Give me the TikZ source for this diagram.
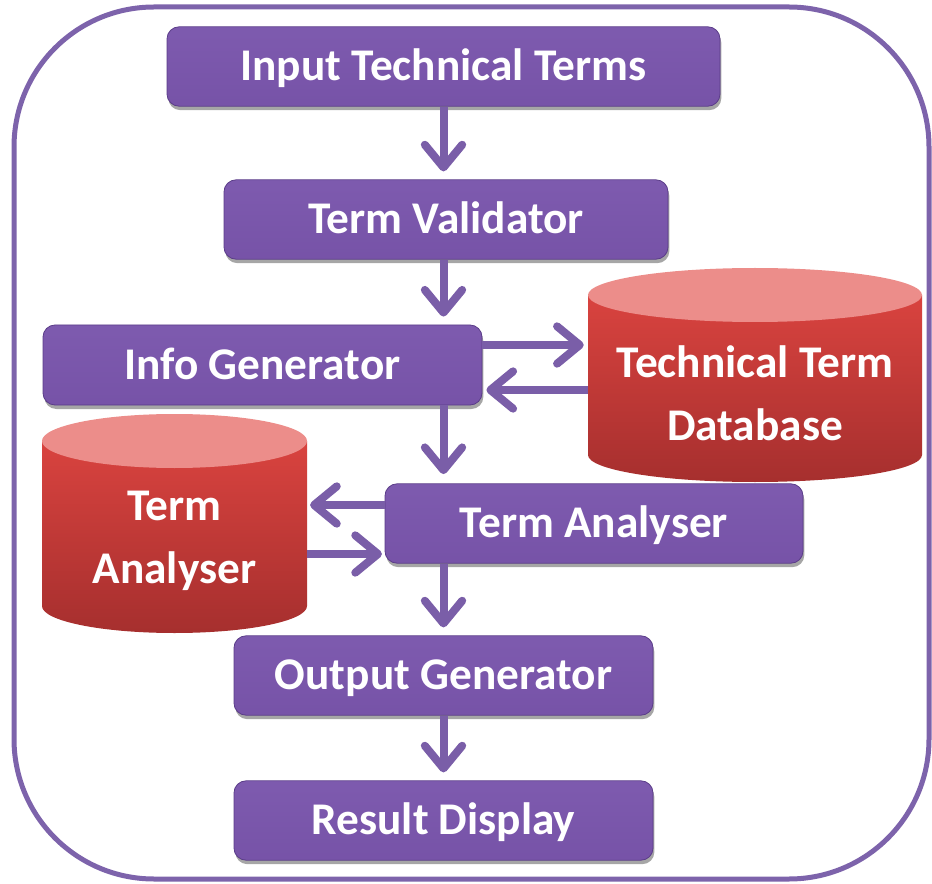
\documentclass[tikz,border=0pt]{standalone}
\usepackage{fontspec}
\setmainfont{Carlito}
\usetikzlibrary{arrows.meta,shadows,calc}
\definecolor{framec}{HTML}{7D63AB}
\definecolor{arrowc}{HTML}{7A5EA8}
\definecolor{boxlight}{HTML}{A98DD6}
\definecolor{boxmid}{HTML}{7E5BAF}
\definecolor{boxmidd}{HTML}{7551A6}
\definecolor{boxdark}{HTML}{603E91}
\definecolor{boxborder}{HTML}{5A3C88}
\definecolor{cyltop}{HTML}{EC8D8A}
\definecolor{cylhi}{HTML}{D9433F}
\definecolor{cyllo}{HTML}{A62F2E}
\pgfdeclareverticalshading{boxshade}{100bp}{color(0bp)=(boxdark); color(14bp)=(boxmidd); color(78bp)=(boxmid); color(92bp)=(boxlight); color(100bp)=(boxlight)}
\tikzset{
  lbl/.style={text=white, font=\bfseries\fontsize{34}{47}\selectfont, align=center},
  boxn/.style={lbl, shade, shading=boxshade, draw=boxborder, line width=0.6pt,
    rounded corners=9pt, minimum height=59.5pt, inner sep=0pt,
    text height=21pt, text depth=0pt,
    drop shadow={shadow xshift=1pt, shadow yshift=-3pt, opacity=0.35, fill=black}},
  cylarea/.style={inner sep=0pt, draw=none},
  arr/.style={draw=arrowc, line width=6pt, -{Straight Barb[length=17pt, width=28pt, round]}},
}
\begin{document}
\begin{tikzpicture}[x=0.75pt, y=-0.75pt]
\useasboundingbox (0,0) rectangle (932,884);
% outer frame
\draw[framec, line width=3.75pt, rounded corners=105pt] (14,7) rectangle (929,879);

% cylinders
\shade[top color=cylhi, bottom color=cyllo] (588,295) -- (588,455) arc[start angle=180, end angle=0, x radius=167, y radius=27] -- (922,295) -- cycle;
\fill[cyltop] (755,295) ellipse [x radius=167, y radius=27];
\node[cylarea, minimum width=250.5pt, minimum height=160.5pt] (db) at (755,375) {};
\node[lbl] (dbt) at (755,393) {Technical Term\\Database};

\shade[top color=cylhi, bottom color=cyllo] (42,441) -- (42,606) arc[start angle=180, end angle=0, x radius=132.5, y radius=27] -- (307,441) -- cycle;
\fill[cyltop] (174.5,441) ellipse [x radius=132.5, y radius=27];
\node[cylarea, minimum width=199pt, minimum height=163.5pt] (ta) at (174.5,524) {};
\node[lbl] (tat) at (174.5,541) {Term\\Analyser};

% boxes
\node[boxn, minimum width=414.75pt] (b1) at (443.5,66.5) {Input Technical Terms};
\node[boxn, minimum width=333pt] (b2) at (446,219.5) {Term Validator};
\node[boxn, minimum width=329.25pt, minimum height=60pt] (b3) at (262.5,365) {Info Generator};
\node[boxn, minimum width=313.5pt] (b6) at (594,523.5) {Term Analyser};
\node[boxn, minimum width=314.25pt] (b7) at (443.5,675.5) {Output Generator};
\node[boxn, minimum width=314.25pt] (b8) at (443.5,820.5) {Result Display};

% vertical arrows
\draw[arr, shorten >=6pt] (b1.south) -- (b2.north -| b1.south);
\draw[arr, shorten >=6pt] (b2.south -| b1.south) -- (b3.north -| b1.south);
\draw[arr, shorten >=7pt] (b3.south -| b1.south) -- (b6.north -| b1.south);
\draw[arr, shorten >=6pt] (b6.south -| b1.south) -- (b7.north -| b1.south);
\draw[arr, shorten >=6pt] (b7.south) -- (b8.north);

% horizontal arrows
\coordinate (p1) at ($(b3.east)+(0,-20)$);
\coordinate (p2) at ($(b3.east)+(0,25)$);
\draw[arr, shorten >=3pt] (p1) -- (p1 -| db.west);
\draw[arr, shorten >=3pt] (p2 -| db.west) -- (p2);
\coordinate (p3) at ($(b6.west)+(0,-18.5)$);
\coordinate (p4) at ($(b6.west)+(0,30.5)$);
\draw[arr, shorten >=2pt] (p3) -- (p3 -| ta.east);
\draw[arr, shorten >=2pt] (p4 -| ta.east) -- (p4);
\end{tikzpicture}
\end{document}
